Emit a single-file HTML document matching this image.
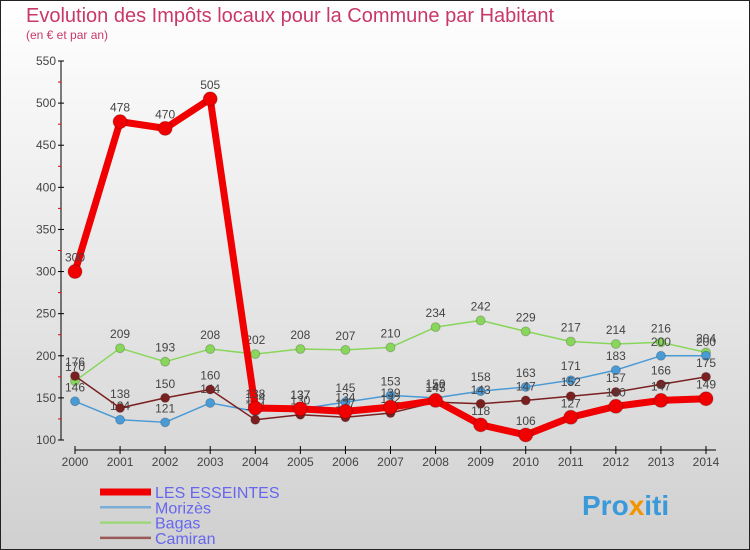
<!DOCTYPE html>
<html><head><meta charset="utf-8"><style>
body{margin:0;}
#c{width:750px;height:550px;position:relative;overflow:hidden;font-family:"Liberation Sans",sans-serif;}
</style></head><body>
<div id="c">
<svg id="s" width="750" height="550" xmlns="http://www.w3.org/2000/svg">
<defs><linearGradient id="bg" x1="0" y1="0" x2="0" y2="1"><stop offset="0" stop-color="#ffffff"/><stop offset="1" stop-color="#d0d0d0"/></linearGradient></defs>
<rect x="0.5" y="0.5" width="749" height="549" fill="url(#bg)" stroke="#222"/>
<text x="26" y="22" font-size="20" fill="#c8386a">Evolution des Impôts locaux pour la Commune par Habitant</text>
<text x="26" y="39" font-size="12" fill="#c8386a">(en € et par an)</text>
<g id="axes"></g><g id="series"></g><g id="legend"></g>
<text x="582" y="515" font-size="28" font-weight="bold" fill="#3a9ad9">Pro<tspan fill="#f29400">x</tspan>iti</text>
</svg></div>
<script>
const years=["2000","2001","2002","2003","2004","2005","2006","2007","2008","2009","2010","2011","2012","2013","2014"];
const yTicks=[100,150,200,250,300,350,400,450,500,550];
const esseintes=[300,478,470,505,138,137,134,139,147,118,106,127,140,147,149];
const morizes=[146,124,121,144,134,137,145,153,150,158,163,171,183,200,200];
const bagas=[170,209,193,208,202,208,207,210,234,242,229,217,214,216,204];
const camiran=[176,138,150,160,124,130,127,132,145,143,147,152,157,166,175];
const NS="http://www.w3.org/2000/svg";
const X=i=>75+i*(706-75)/(years.length-1);
const Y=v=>440-(v-100)*(440-61)/450;
function mk(t,a,p){const e=document.createElementNS(NS,t);for(const k in a)e.setAttribute(k,a[k]);p.appendChild(e);return e;}
const ax=document.getElementById('axes');
let yl=mk('line',{x1:61,y1:Y(550),x2:61,y2:Y(100),stroke:'#000'},ax);


yTicks.forEach(v=>{
 mk('line',{x1:58,y1:Y(v),x2:64,y2:Y(v),stroke:'#000'},ax);
 if(v<550)mk('line',{x1:58,y1:Y(v+25),x2:61,y2:Y(v+25),stroke:'#e00'},ax);
 const t=mk('text',{x:56,y:Y(v)+4,'font-size':12,fill:'#444','text-anchor':'end'},ax);t.textContent=v;
 
 
});
let xl=mk('line',{x1:X(0),y1:450,x2:X(14)+10,y2:450,stroke:'#000'},ax);


years.forEach((y,i)=>{
 mk('line',{x1:X(i),y1:446,x2:X(i),y2:454,stroke:'#000'},ax);
 const t=mk('text',{x:X(i),y:466,'font-size':12,fill:'#444','text-anchor':'middle'},ax);t.textContent=y;
 
 
});
const sg=document.getElementById('series');
const defs=[
 {d:bagas,c:'#88d65a',w:1.5,r:4.5,n:'bagas'},
 {d:morizes,c:'#4a9ad6',w:1.5,r:4.5,n:'morizes'},
 {d:camiran,c:'#7a2020',w:1.5,r:4.5,n:'camiran'},
 {d:esseintes,c:'#f00000',w:7,r:7,n:'les-esseintes'}];
defs.forEach(s=>{
 const g=mk('g',{},sg);
 
 
 const pl=mk('polyline',{points:s.d.map((v,i)=>X(i)+','+Y(v)).join(' '),fill:'none',stroke:s.c,'stroke-width':s.w,'stroke-linejoin':'round'},g);
 
 
 s.d.forEach((v,i)=>{
  const c=mk('circle',{cx:X(i),cy:Y(v),r:s.r,fill:s.c,stroke:'rgba(0,0,0,0.2)'},g);
  
  
  const t=mk('text',{x:X(i),y:Y(v)-10,'font-size':12,fill:'#444','text-anchor':'middle'},g);t.textContent=v;
  
  
 });
});
const lg=document.getElementById('legend');
const leg=[['LES ESSEINTES','#f00000',7],['Morizès','#7aaed6',2.5],['Bagas','#9ed67a',2.5],['Camiran','#9a5a5a',2.5]];
leg.forEach((l,i)=>{
 const y=492+i*15.3;
 const ln=mk('line',{x1:100,y1:y,x2:151,y2:y,stroke:l[1],'stroke-width':l[2]},lg);
 
 
 const t=mk('text',{x:155,y:y+6,'font-size':16,fill:'#6666ee'},lg);t.textContent=l[0];
 
 
});
</script>
</body></html>
